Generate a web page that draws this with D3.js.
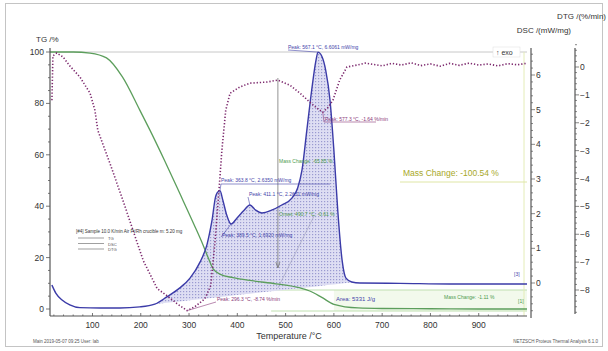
<!DOCTYPE html>
<html>
<head>
<meta charset="utf-8">
<script src="https://cdn.jsdelivr.net/npm/d3@7"></script>
<style>
  body { margin: 0; background: #fff; }
  text { font-family: "Liberation Sans", Arial, sans-serif; }
</style>
</head>
<body>
<div id="chart-container"></div>
<script>
// Data (temperature in °C)
const tgTemp  = [12, 60, 95, 129, 162, 198, 219, 250, 280, 310, 329, 339, 350, 365, 391, 430, 480, 530, 550, 575, 600, 650, 700, 800, 900, 1000];
const tgValue = [100, 100, 99.6, 97.7, 90.3, 77.4, 69.6, 57.5, 45.3, 33, 24.9, 20.2, 15.6, 13.5, 12.2, 11, 9.8, 8.2, 7, 4.5, 1.8, 0.4, 0.2, 0.1, 0, 0];

const dscTemp  = [16, 24, 37, 53, 74, 116, 157, 198, 229, 254, 281, 302, 323, 337, 347, 356, 364, 370, 378, 387, 399, 414, 426, 438, 451, 471, 492, 513, 525, 534, 544, 554, 563, 567, 575, 583, 592, 600, 608, 617, 625, 637, 654, 737, 840, 1000];
const dscValue = [-0.06, -0.29, -0.49, -0.63, -0.71, -0.72, -0.72, -0.69, -0.61, -0.40, -0.14, 0.14, 0.61, 1.10, 1.76, 2.54, 2.66, 2.39, 1.96, 1.70, 1.87, 2.10, 2.25, 2.10, 2.02, 2.10, 2.25, 2.45, 2.74, 3.26, 4.41, 5.56, 6.43, 6.66, 6.54, 6.14, 5.27, 3.83, 2.10, 0.66, 0.14, 0.03, 0.0, -0.01, -0.03, -0.03];

const dtgTemp  = [16, 17, 18, 26, 39, 53, 74, 95, 105, 111, 136, 161, 184, 205, 234, 254, 275, 296, 312, 333, 345, 354, 362, 368, 376, 385, 405, 426, 461, 484, 509, 530, 550, 568, 577, 588, 598, 612, 627, 648, 665, 680, 700, 720, 740, 760, 780, 800, 820, 840, 860, 880, 900, 920, 940, 960, 980, 998];
const dtgValue = [-1.19, -0.4, 0.4, 0.5, 0.36, 0.04, -0.36, -0.94, -1.55, -2.27, -3.45, -4.68, -5.86, -6.94, -7.95, -8.2, -8.49, -8.74, -8.6, -8.31, -7.84, -6.22, -4.42, -2.99, -1.55, -0.94, -0.72, -0.58, -0.54, -0.47, -0.65, -0.94, -1.26, -1.52, -1.62, -1.45, -1.19, -0.47, 0.0, 0.07, 0.14, 0.1, 0.04, 0.13, 0.07, 0.15, 0.05, 0.11, 0.03, 0.13, 0.06, 0.14, 0.07, 0.11, 0.04, 0.12, 0.08, 0.13];

const xTicks = [100, 200, 300, 400, 500, 600, 700, 800, 900];
const tgTicks = [0, 20, 40, 60, 80, 100];
const dscTicks = [0, 1, 2, 3, 4, 5, 6];
const dtgTicks = [0, -1, -2, -3, -4, -5, -6, -7, -8];

// DSC peak integration limits (°C)
const areaLimits = [229, 640];

const W = 608, H = 351;

// Scales (pixel positions of the plot frame)
const x = d3.scaleLinear().domain([12, 1000]).range([50, 527]);
const yTG = d3.scaleLinear().domain([0, 100]).range([309, 52]);
const yDSC = d3.scaleLinear().domain([0, 6]).range([283, 75]);
const yDTG = d3.scaleLinear().domain([0, -8]).range([67, 290]);

const plotTop = 48, plotBottom = 316;

const tgData = tgTemp.map((t, i) => ({ t, v: tgValue[i] }));
const dscData = dscTemp.map((t, i) => ({ t, v: dscValue[i] }));
const dtgData = dtgTemp.map((t, i) => ({ t, v: dtgValue[i] }));

const svg = d3.select("#chart-container")
  .append("svg")
  .attr("width", W)
  .attr("height", H);

// Outer frame
svg.append("rect")
  .attr("x", 5.5).attr("y", 3.5)
  .attr("width", 597).attr("height", 343)
  .attr("fill", "#fff")
  .attr("stroke", "#c4c4c4");

// Hatch pattern for the DSC peak area
const defs = svg.append("defs");
const pat = defs.append("pattern")
  .attr("id", "dots")
  .attr("width", 3).attr("height", 3)
  .attr("patternUnits", "userSpaceOnUse");
pat.append("rect").attr("width", 3).attr("height", 3).attr("fill", "#dedef3");
pat.append("rect").attr("width", 1.2).attr("height", 1.2).attr("fill", "#9a9ad0");

// Light green band of the last mass-change step
svg.append("rect")
  .attr("x", x(600)).attr("y", 290)
  .attr("width", x(1000) - x(600)).attr("height", 21)
  .attr("fill", "#f2f9ec");
[290, 311].forEach(yy => {
  svg.append("line")
    .attr("x1", x(470)).attr("x2", x(1000))
    .attr("y1", yy).attr("y2", yy)
    .attr("stroke", "#bfe0b0").attr("stroke-width", 1);
});

// Top reference line (TG 100 %)
svg.append("line")
  .attr("x1", 50).attr("x2", 527)
  .attr("y1", yTG(100)).attr("y2", yTG(100))
  .attr("stroke", "#c8c8c8");

// Yellow marker lines of total mass change
svg.append("line")
  .attr("x1", 524).attr("x2", 524)
  .attr("y1", yTG(100)).attr("y2", plotBottom)
  .attr("stroke", "#e4ecb8");
svg.append("line")
  .attr("x1", 400).attr("x2", 527)
  .attr("y1", 182).attr("y2", 182)
  .attr("stroke", "#dfe6a6");

// DSC peak area with baseline
const base = d3.scaleLinear()
  .domain(areaLimits)
  .range([-0.61, 0.02]);
const areaData = dscData.filter(d => d.t >= areaLimits[0] && d.t <= areaLimits[1]);
svg.append("path")
  .datum(areaData)
  .attr("fill", "url(#dots)")
  .attr("stroke", "none")
  .attr("d", d3.area()
    .x(d => x(d.t))
    .y0(d => yDSC(base(d.t)))
    .y1(d => yDSC(Math.max(d.v, base(d.t)))));

// Mass change marker (vertical line with arrow)
svg.append("line")
  .attr("x1", x(484)).attr("x2", x(484))
  .attr("y1", 78).attr("y2", 268)
  .attr("stroke", "#777").attr("stroke-width", 0.8);
svg.append("path")
  .attr("d", `M${x(484) - 2},262 L${x(484)},268 L${x(484) + 2},262`)
  .attr("fill", "none").attr("stroke", "#777").attr("stroke-width", 0.8);
svg.append("line")
  .attr("x1", x(484)).attr("x2", x(560))
  .attr("y1", 288).attr("y2", 215)
  .attr("stroke", "#9a9ab8").attr("stroke-width", 0.6);

// TG line
svg.append("path")
  .datum(tgData)
  .attr("fill", "none")
  .attr("stroke", "#5c9e5c")
  .attr("stroke-width", 1.3)
  .attr("d", d3.line().curve(d3.curveMonotoneX).x(d => x(d.t)).y(d => yTG(d.v)));

// DSC line
svg.append("path")
  .datum(dscData)
  .attr("fill", "none")
  .attr("stroke", "#3b3ba8")
  .attr("stroke-width", 1.4)
  .attr("d", d3.line().curve(d3.curveMonotoneX).x(d => x(d.t)).y(d => yDSC(d.v)));

// DTG line (dotted)
svg.append("path")
  .datum(dtgData)
  .attr("fill", "none")
  .attr("stroke", "#7d2a6e")
  .attr("stroke-width", 1.6)
  .attr("stroke-dasharray", "1.3,1.9")
  .attr("d", d3.line().x(d => x(d.t)).y(d => yDTG(d.v)));

// Axes
const axisColor = "#555";
const labelColor = "#333";

// Left TG axis
svg.append("line")
  .attr("x1", 50).attr("x2", 50).attr("y1", plotTop).attr("y2", plotBottom)
  .attr("stroke", axisColor).attr("stroke-width", 1.2);
d3.range(0, 101, 5).forEach(v => {
  svg.append("line")
    .attr("x1", 50).attr("x2", v % 20 === 0 ? 46 : 48)
    .attr("y1", yTG(v)).attr("y2", yTG(v))
    .attr("stroke", axisColor).attr("stroke-width", 0.8);
});
svg.selectAll(".tgLabel")
  .data(tgTicks)
  .join("text")
  .attr("x", 44).attr("y", d => yTG(d) + 3)
  .attr("text-anchor", "end")
  .style("font-size", "8.5px")
  .style("fill", labelColor)
  .text(d => d);

// Bottom temperature axis
svg.append("line")
  .attr("x1", 50).attr("x2", 527).attr("y1", plotBottom).attr("y2", plotBottom)
  .attr("stroke", axisColor).attr("stroke-width", 1.2);
d3.range(20, 1000, 20).forEach(v => {
  svg.append("line")
    .attr("x1", x(v)).attr("x2", x(v))
    .attr("y1", plotBottom).attr("y2", v % 100 === 0 ? plotBottom - 3 : plotBottom - 1.5)
    .attr("stroke", axisColor).attr("stroke-width", 0.8);
});
svg.selectAll(".xLabel")
  .data(xTicks)
  .join("text")
  .attr("x", d => x(d)).attr("y", 328)
  .attr("text-anchor", "middle")
  .style("font-size", "8.5px")
  .style("fill", labelColor)
  .text(d => d);

// DSC axis
const dscX = 531;
svg.append("line")
  .attr("x1", dscX).attr("x2", dscX).attr("y1", plotTop).attr("y2", 318)
  .attr("stroke", axisColor).attr("stroke-width", 1.2);
d3.range(-0.8, 6.8, 0.2).forEach(v => {
  const major = Math.abs(v - Math.round(v)) < 0.01;
  svg.append("line")
    .attr("x1", dscX).attr("x2", dscX + (major ? 4 : 2))
    .attr("y1", yDSC(v)).attr("y2", yDSC(v))
    .attr("stroke", axisColor).attr("stroke-width", 0.7);
});
svg.selectAll(".dscLabel")
  .data(dscTicks)
  .join("text")
  .attr("x", dscX + 5).attr("y", d => yDSC(d) + 3)
  .style("font-size", "8.5px")
  .style("fill", labelColor)
  .text(d => d);

// DTG axis
const dtgX = 575;
svg.append("line")
  .attr("x1", dtgX).attr("x2", dtgX).attr("y1", plotTop).attr("y2", 314)
  .attr("stroke", axisColor).attr("stroke-width", 1.2);
d3.range(-8.8, 0.8, 0.2).forEach(v => {
  const major = Math.abs(v - Math.round(v)) < 0.01;
  svg.append("line")
    .attr("x1", dtgX).attr("x2", dtgX + (major ? 4 : 2))
    .attr("y1", yDTG(v)).attr("y2", yDTG(v))
    .attr("stroke", axisColor).attr("stroke-width", 0.7);
});
svg.selectAll(".dtgLabel")
  .data(dtgTicks)
  .join("text")
  .attr("x", dtgX + 5).attr("y", d => yDTG(d) + 3)
  .style("font-size", "8.5px")
  .style("fill", labelColor)
  .text(d => d === 0 ? "0" : "\u2212" + Math.abs(d));

// Axis titles
svg.append("text").attr("x", 36).attr("y", 42)
  .style("font-size", "8px").style("fill", labelColor).text("TG /%");
svg.append("text").attr("x", 571).attr("y", 33).attr("text-anchor", "end")
  .style("font-size", "8px").style("fill", labelColor).text("DSC /(mW/mg)");
svg.append("text").attr("x", 606).attr("y", 19).attr("text-anchor", "end")
  .style("font-size", "8px").style("fill", labelColor).text("DTG /(%/min)");
svg.append("text").attr("x", 289).attr("y", 339).attr("text-anchor", "middle")
  .style("font-size", "9px").style("fill", labelColor).text("Temperature /°C");

// exo marker
svg.append("rect").attr("x", 493).attr("y", 47).attr("width", 27).attr("height", 10)
  .attr("fill", "#fff").attr("stroke", "#ddd").attr("stroke-width", 0.5);
svg.append("text").attr("x", 496).attr("y", 55)
  .style("font-size", "7px").style("fill", "#333").text("\u2191 exo");

// Annotations
function note(xx, yy, txt, color, size) {
  svg.append("text").attr("x", xx).attr("y", yy)
    .style("font-size", (size || 5) + "px")
    .style("fill", color)
    .text(txt);
}
function lead(x1, y1, x2, y2, color) {
  svg.append("line").attr("x1", x1).attr("y1", y1).attr("x2", x2).attr("y2", y2)
    .attr("stroke", color).attr("stroke-width", 0.6);
}
const blue = "#4444aa", purple = "#8a3a7a", green = "#4d9a4d";

lead(x(567), yDSC(6.66), 288, 50, blue);
note(288, 49, "Peak: 567.1 °C, 6.6061 mW/mg", blue);
lead(x(577), yDTG(-1.62), 324, 122, purple);
lead(324, 122, 376, 122, purple);
note(325, 121, "Peak: 577.3 °C, -1.64 %/min", purple);
note(279, 163, "Mass Change: -65.85 %", green);
lead(x(364), yDSC(2.66), 221, 184, blue);
lead(221, 184, 330, 184, blue);
note(221, 182, "Peak: 363.8 °C, 2.6350 mW/mg", blue);
lead(x(426), yDSC(2.25), 248, 197, blue);
note(249, 196, "Peak: 411.1 °C, 2.2651 mW/mg", blue);
note(279, 216, "Onset: 490.7 °C, -0.61 %", green);
lead(x(387), yDSC(1.70), 221, 237, blue);
note(222, 237, "Peak: 389.5 °C, 1.6920 mW/mg", blue);
lead(x(296), yDTG(-8.74), 216, 302, purple);
note(217, 301, "Peak: 296.3 °C, -8.74 %/min", purple);
note(336, 301, "Area: 5331 J/g", blue, 6);
note(444, 299, "Mass Change: -1.11 %", green);
note(403, 176, "Mass Change: -100.54 %", "#a8a828", 8.5);
note(514, 276, "[3]", blue, 5);
note(518, 303, "[1]", green, 5);

// Legend
note(76, 233, "[#4] Sample   10.0 K/min   Air   Pt/Rh crucible   m: 5.20 mg", "#333", 4.5);
const legend = [["TG", "#5c9e5c"], ["DSC", "#3b3ba8"], ["DTG", "#7d2a6e"]];
legend.forEach((d, i) => {
  svg.append("line").attr("x1", 78).attr("x2", 104)
    .attr("y1", 238 + i * 5.5).attr("y2", 238 + i * 5.5)
    .attr("stroke", "#777").attr("stroke-width", 0.7);
  note(108, 240 + i * 5.5, d[0], "#555", 4.2);
});

// Footer texts
note(33, 343, "Main   2019-05-07 09:25     User: lab", "#555", 4.5);
svg.append("text").attr("x", 598).attr("y", 343).attr("text-anchor", "end")
  .style("font-size", "4.5px").style("fill", "#555")
  .text("NETZSCH Proteus Thermal Analysis 6.1.0");
</script>
</body>
</html>
